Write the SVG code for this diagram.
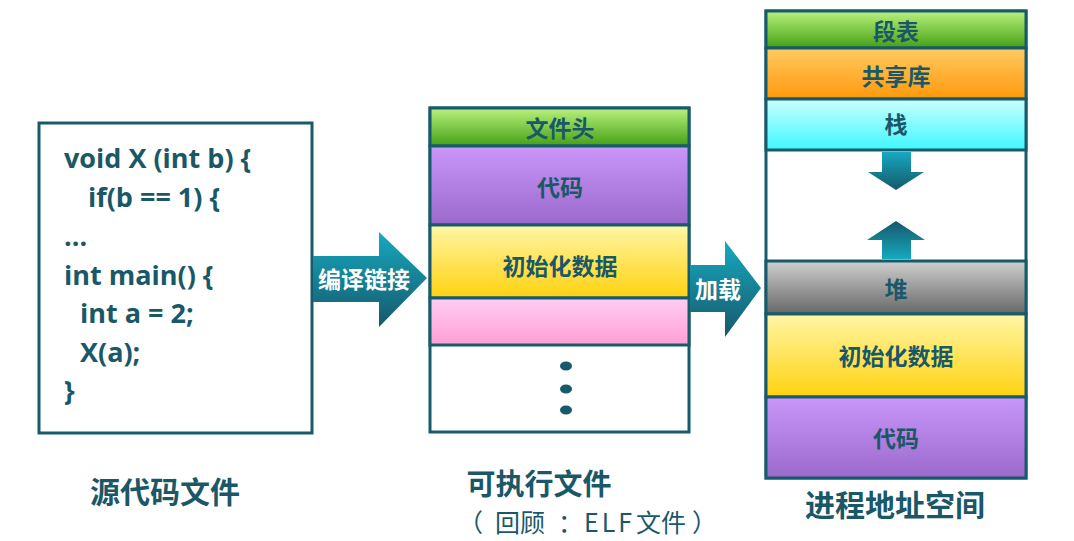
<svg xmlns="http://www.w3.org/2000/svg" width="1074" height="541" viewBox="0 0 1074 541">
<defs>
<linearGradient id="gGreen" x1="0" y1="0" x2="0" y2="1"><stop offset="0" stop-color="#b8f27e"/><stop offset="1" stop-color="#46a015"/></linearGradient>
<linearGradient id="gPurple" x1="0" y1="0" x2="0" y2="1"><stop offset="0" stop-color="#c997f9"/><stop offset="1" stop-color="#9a69cb"/></linearGradient>
<linearGradient id="gYellow" x1="0" y1="0" x2="0" y2="1"><stop offset="0" stop-color="#fff6a6"/><stop offset="1" stop-color="#ffd20f"/></linearGradient>
<linearGradient id="gPink" x1="0" y1="0" x2="0" y2="1"><stop offset="0" stop-color="#ffcdf6"/><stop offset="1" stop-color="#ff9fd2"/></linearGradient>
<linearGradient id="gOrange" x1="0" y1="0" x2="0" y2="1"><stop offset="0" stop-color="#ffca62"/><stop offset="1" stop-color="#ff990c"/></linearGradient>
<linearGradient id="gCyan" x1="0" y1="0" x2="0" y2="1"><stop offset="0" stop-color="#caffff"/><stop offset="1" stop-color="#3ef7ff"/></linearGradient>
<linearGradient id="gGray" x1="0" y1="0" x2="0" y2="1"><stop offset="0" stop-color="#cfcfcf"/><stop offset="1" stop-color="#676767"/></linearGradient>
<linearGradient id="gArrow" x1="0" y1="0" x2="0" y2="1"><stop offset="0" stop-color="#16a9c0"/><stop offset="1" stop-color="#17586a"/></linearGradient>
<linearGradient id="gArrowUp" x1="0" y1="1" x2="0" y2="0"><stop offset="0" stop-color="#16a9c0"/><stop offset="1" stop-color="#17586a"/></linearGradient>
</defs>
<style>
.box{fill:#ffffff;stroke:#175a6b;stroke-width:3}
.sec{stroke:#175a6b;stroke-width:3}
.lbl{font-family:"Noto Sans CJK SC","Liberation Sans",sans-serif;font-weight:bold;font-size:23px;fill:#1a5868;text-anchor:middle;dominant-baseline:central}
.code{font-family:"Open Sans","Liberation Sans",sans-serif;font-weight:bold;font-size:27px;fill:#1a5868}
.cap{font-family:"Noto Sans CJK SC","Liberation Sans",sans-serif;font-weight:bold;font-size:30px;fill:#1a5868;text-anchor:middle;dominant-baseline:central}
.sub{font-family:"Noto Sans CJK SC","Liberation Sans",sans-serif;font-size:25px;fill:#1a5868;dominant-baseline:central}
.atxt{font-family:"Noto Sans CJK SC","Liberation Sans",sans-serif;font-weight:bold;font-size:23px;fill:#ffffff;text-anchor:middle;dominant-baseline:central}
</style>

<g id="source">
<rect class="box" x="39" y="123" width="273" height="310"/>
<text class="code" x="64" y="168">void X (int b) {</text>
<text class="code" x="88" y="207">if(b == 1) {</text>
<text class="code" x="64" y="246">...</text>
<text class="code" x="64" y="285">int main() {</text>
<text class="code" x="80" y="323">int a = 2;</text>
<text class="code" x="80" y="362">X(a);</text>
<text class="code" x="64" y="400">}</text>
</g>
<g id="source-label"><text class="cap" x="165" y="490">源代码文件</text></g>

<g id="elf">
<rect class="box" x="430" y="108" width="259" height="324"/>
<rect class="sec" x="430" y="108" width="259" height="38" fill="url(#gGreen)"/>
<rect class="sec" x="430" y="146" width="259" height="79" fill="url(#gPurple)"/>
<rect class="sec" x="430" y="225" width="259" height="73" fill="url(#gYellow)"/>
<rect class="sec" x="430" y="298" width="259" height="47" fill="url(#gPink)"/>
<text class="lbl" x="560" y="127">文件头</text>
<text class="lbl" x="560" y="186">代码</text>
<text class="lbl" x="560" y="265">初始化数据</text>
<ellipse cx="566" cy="366" rx="6" ry="4.5" fill="#175a6b"/>
<ellipse cx="566" cy="389" rx="6" ry="4.5" fill="#175a6b"/>
<ellipse cx="566" cy="410" rx="6" ry="4.5" fill="#175a6b"/>
</g>
<g id="elf-label">
<text class="cap" x="539" y="482" style="font-size:29px">可执行文件</text>
<text class="sub" y="521"><tspan x="458">（</tspan><tspan x="495">回顾</tspan><tspan x="558">：</tspan><tspan x="584" style="letter-spacing:3px">ELF</tspan><tspan x="636">文件</tspan><tspan x="692">）</tspan></text>
</g>

<g id="process">
<rect class="box" x="766" y="11" width="260" height="467"/>
<rect class="sec" x="766" y="11" width="260" height="37" fill="url(#gGreen)"/>
<rect class="sec" x="766" y="48" width="260" height="51" fill="url(#gOrange)"/>
<rect class="sec" x="766" y="99" width="260" height="51" fill="url(#gCyan)"/>
<rect class="sec" x="766" y="261" width="260" height="53" fill="url(#gGray)"/>
<rect class="sec" x="766" y="314" width="260" height="83" fill="url(#gYellow)"/>
<rect class="sec" x="766" y="397" width="260" height="81" fill="url(#gPurple)"/>
<text class="lbl" x="896" y="30">段表</text>
<text class="lbl" x="896" y="75">共享库</text>
<text class="lbl" x="896" y="123">栈</text>
<text class="lbl" x="896" y="288">堆</text>
<text class="lbl" x="896" y="355">初始化数据</text>
<text class="lbl" x="896" y="437">代码</text>
</g>
<g id="process-label"><text class="cap" x="895" y="503">进程地址空间</text></g>

<g id="connectors">
<g id="arrow-compile">
<polygon points="313,256 379,256 379,232 427,278 379,327 379,302 313,302" fill="url(#gArrow)"/>
<text class="atxt" x="364" y="278">编译链接</text>
</g>
<g id="arrow-load">
<polygon points="690,265 725,265 725,241 761,288 725,337 725,312 690,312" fill="url(#gArrow)"/>
<text class="atxt" x="718" y="288">加载</text>
</g>
<g id="arrow-stack">
<polygon points="882,152 911,152 911,172 924,172 896,190 868,172 882,172" fill="url(#gArrow)"/>
</g>
<g id="arrow-heap">
<polygon points="882,259 911,259 911,240 925,240 896,221 867,240 882,240" fill="url(#gArrowUp)"/>
</g>
</g>
</svg>
